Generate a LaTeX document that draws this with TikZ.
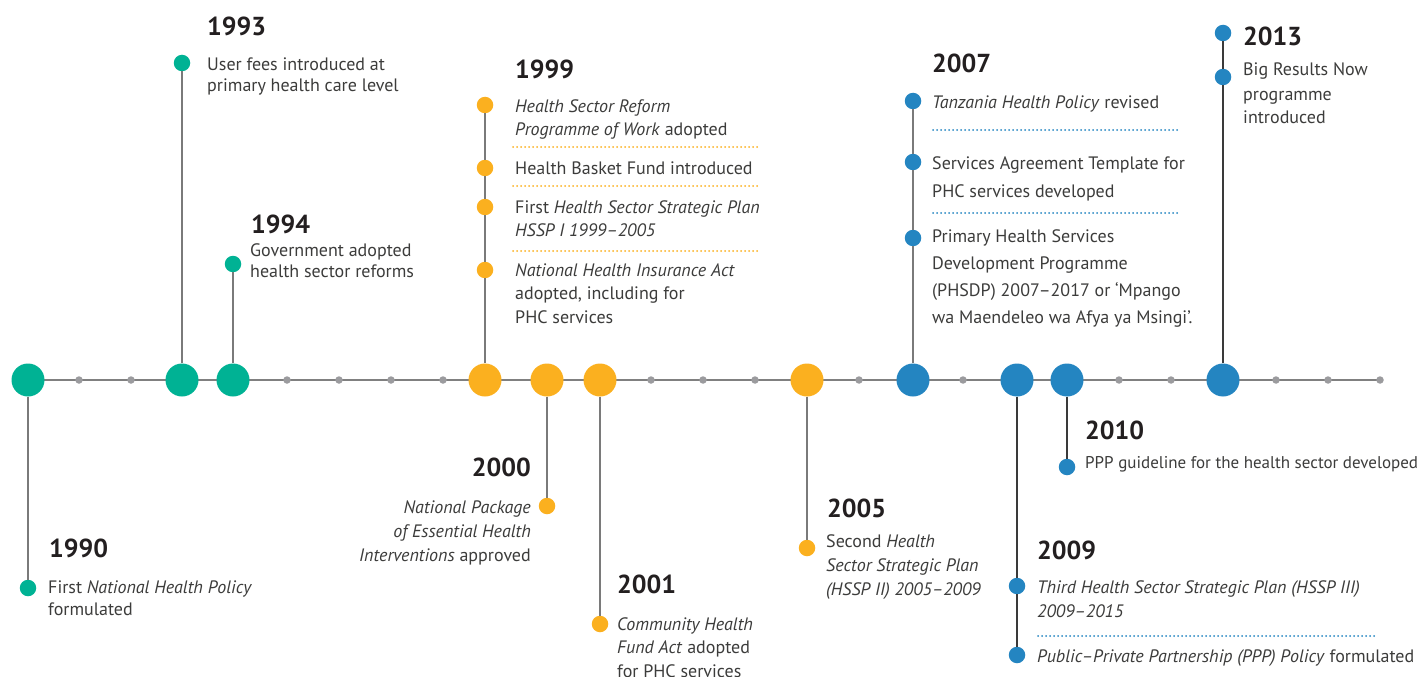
\documentclass[tikz,border=0pt]{standalone}
\usepackage{fontspec}
\setmainfont{PT Sans}

\definecolor{tlgreen}{HTML}{00B294}
\definecolor{tlorange}{HTML}{FBB01F}
\definecolor{tlblue}{HTML}{2485C1}
\definecolor{axisgray}{HTML}{808080}
\definecolor{tickgray}{HTML}{9B9B9E}
\definecolor{stemgray}{HTML}{7A7A7A}
\definecolor{stemdark}{HTML}{3A3A3A}
\definecolor{textgray}{HTML}{3C3C3B}
\definecolor{yearblack}{HTML}{231F20}

\tikzset{
  timeline/.style={draw=axisgray, line width=2pt},
  tickdot/.style={circle, fill=tickgray, inner sep=0pt, minimum size=7.5pt},
  yeardot/.style={circle, fill=#1, inner sep=0pt, minimum size=33pt},
  evdot/.style={circle, fill=#1, inner sep=0pt, minimum size=16.5pt},
  stemline/.style={draw=stemgray, line width=2pt},
  darkstem/.style={draw=stemdark, line width=2pt},
  yearlabel/.style={anchor=base west, inner sep=0pt, text=yearblack,
    font=\fontsize{26}{26}\selectfont\bfseries},
  % multi-line texts sit on the baseline of their last line
  evtext/.style={anchor=base west, inner sep=0pt, align=left, text=textgray,
    font=\fontsize{18}{#1}\selectfont},
  evtext/.default=23.5,
  sepline/.style={draw=#1, line width=2pt, line cap=round, dash pattern=on 0pt off 4pt}
}

\begin{document}
\begin{tikzpicture}[x=1pt, y=-1pt]
\useasboundingbox (0,0) rectangle (1417,677);

% the time axis with its small ticks
\coordinate (start) at (28,380);
\coordinate (end) at (1380,380);
\draw[timeline] (start) -- (end);
\foreach \x in {79,131,287,339,391,443,651,703,755,859,963,1119,1171,1276,1328,1380}
  \node[tickdot] at (\x,380) {};

% year markers on the axis
\node[yeardot=tlgreen] (y1990) at (28,380) {};
\node[yeardot=tlgreen] (y1993) at (182,380) {};
\node[yeardot=tlgreen] (y1994) at (233,380) {};
\node[yeardot=tlorange] (y1999) at (485,380) {};
\node[yeardot=tlorange] (y2000) at (547,380) {};
\node[yeardot=tlorange] (y2001) at (600,380) {};
\node[yeardot=tlorange] (y2005) at (807,380) {};
\node[yeardot=tlblue] (y2007) at (913,380) {};
\node[yeardot=tlblue] (y2009) at (1017,380) {};
\node[yeardot=tlblue] (y2010) at (1067,380) {};
\node[yeardot=tlblue] (y2013) at (1223,380) {};

% 1990
\node[evdot=tlgreen] (e1990) at (28,588) {};
\node[yearlabel] (l1990) at (49,557) {1990};
\node[evtext=22] (t1990) at (48,615) {First \textit{National Health Policy}\\formulated};
\draw[stemline] (y1990) -- (e1990);

% 1993
\node[evdot=tlgreen] (e1993) at (182,63) {};
\node[yearlabel] (l1993) at (207,36) {1993};
\node[evtext=21] (t1993) at (207,92) {User fees introduced at\\primary health care level};
\draw[stemline] (y1993) -- (e1993);

% 1994
\node[evdot=tlgreen] (e1994) at (233,264) {};
\node[yearlabel] (l1994) at (251,233) {1994};
\node[evtext=21] (t1994) at (250,277) {Government adopted\\health sector reforms};
\draw[stemline] (y1994) -- (e1994);

% 1999
\node[evdot=tlorange] (e1999a) at (485,105) {};
\node[evdot=tlorange] (e1999b) at (485,168) {};
\node[evdot=tlorange] (e1999c) at (485,207) {};
\node[evdot=tlorange] (e1999d) at (485,270) {};
\node[yearlabel] (l1999) at (515,78) {1999};
\node[evtext] (t1999a) at (515,135.5) {\textit{Health Sector Reform}\\\textit{Programme of Work} adopted};
\node[evtext] (t1999b) at (515,174) {Health Basket Fund introduced};
\node[evtext] (t1999c) at (515,236.5) {First \textit{Health Sector Strategic Plan}\\\textit{HSSP I 1999–2005}};
\node[evtext] (t1999d) at (515,323) {\textit{National Health Insurance Act}\\adopted, including for\\PHC services};
\draw[sepline=tlorange] (513,147) -- (760,147);
\draw[sepline=tlorange] (513,186) -- (760,186);
\draw[sepline=tlorange] (513,251) -- (760,251);
\draw[stemline] (y1999) -- (e1999d);
\draw[stemline] (e1999d) -- (e1999c);
\draw[stemline] (e1999c) -- (e1999b);
\draw[stemline] (e1999b) -- (e1999a);

% 2000
\node[evdot=tlorange] (e2000) at (547,506) {};
\node[yearlabel, anchor=base east] (l2000) at (531,476) {2000};
\node[evtext=24, anchor=base east, align=right] (t2000) at (531,561)
  {\textit{National Package}\\\textit{of Essential Health}\\\textit{Interventions} approved};
\draw[stemline] (y2000) -- (e2000);

% 2001
\node[evdot=tlorange] (e2001) at (600,624) {};
\node[yearlabel] (l2001) at (617,593) {2001};
\node[evtext] (t2001) at (617,677) {\textit{Community Health}\\\textit{Fund Act} adopted\\for PHC services};
\draw[stemline] (y2001) -- (e2001);

% 2005
\node[evdot=tlorange] (e2005) at (807,548) {};
\node[yearlabel] (l2005) at (827,517) {2005};
\node[evtext=24] (t2005) at (826,595) {Second \textit{Health}\\\textit{Sector Strategic Plan}\\\textit{(HSSP II) 2005–2009}};
\draw[stemline] (y2005) -- (e2005);

% 2007
\node[evdot=tlblue] (e2007a) at (913,101) {};
\node[evdot=tlblue] (e2007b) at (913,162) {};
\node[evdot=tlblue] (e2007c) at (913,238) {};
\node[yearlabel] (l2007) at (932,73) {2007};
\node[evtext] (t2007a) at (932,109) {\textit{Tanzania Health Policy} revised};
\node[evtext=28] (t2007b) at (932,197) {Services Agreement Template for\\PHC services developed};
\node[evtext=26.7] (t2007c) at (932,323) {Primary Health Services\\Development Programme\\(PHSDP) 2007–2017 or ‘Mpango\\wa Maendeleo wa Afya ya Msingi’.};
\draw[sepline=tlblue] (933,130) -- (1180,130);
\draw[sepline=tlblue] (933,213) -- (1180,213);
\draw[stemline] (y2007) -- (e2007c);
\draw[stemline] (e2007c) -- (e2007b);
\draw[stemline] (e2007b) -- (e2007a);

% 2009
\node[evdot=tlblue] (e2009a) at (1017,586) {};
\node[evdot=tlblue] (e2009b) at (1017,655) {};
\node[yearlabel] (l2009) at (1037,559) {2009};
\node[evtext=24] (t2009a) at (1037,617) {\textit{Third Health Sector Strategic Plan (HSSP III)}\\\textit{2009–2015}};
\node[evtext] (t2009b) at (1037,662) {\textit{Public–Private Partnership (PPP) Policy} formulated};
\draw[sepline=tlblue] (1038,636) -- (1375,636);
\draw[darkstem] (y2009) -- (e2009a);
\draw[darkstem] (e2009a) -- (e2009b);

% 2010
\node[evdot=tlblue] (e2010) at (1067,467) {};
\node[yearlabel] (l2010) at (1085,439) {2010};
\node[evtext, font=\fontsize{17}{23.5}\selectfont] (t2010) at (1085,468) {PPP guideline for the health sector developed};
\draw[darkstem] (y2010) -- (e2010);

% 2013
\node[evdot=tlblue] (e2013a) at (1223,33) {};
\node[evdot=tlblue] (e2013b) at (1223,77) {};
\node[yearlabel] (l2013) at (1243,46) {2013};
\node[evtext=24] (t2013) at (1243,124) {Big Results Now\\programme\\introduced};
\draw[darkstem] (y2013) -- (e2013b);
\draw[darkstem] (e2013b) -- (e2013a);

\end{tikzpicture}
\end{document}
